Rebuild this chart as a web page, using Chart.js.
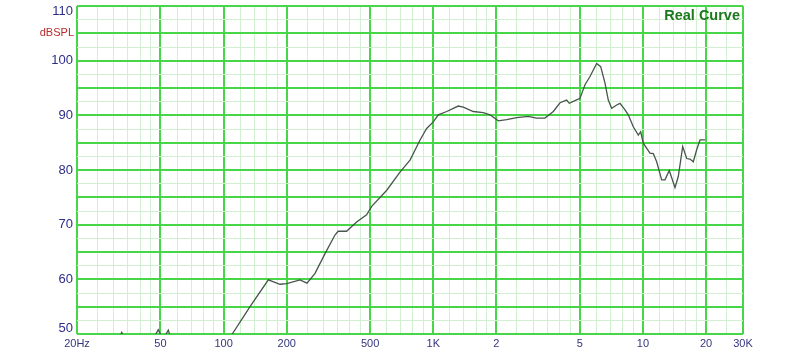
<!DOCTYPE html>
<html>
<head>
<meta charset="utf-8">
<script src="https://cdn.jsdelivr.net/npm/chart.js@4/dist/chart.umd.min.js"></script>
<style>
    html, body { margin: 0; padding: 0; background: #fff; }
    #wrap { width: 800px; height: 359px; }
</style>
</head>
<body>
<div id="wrap"><canvas id="responseChart" width="800" height="359"></canvas></div>
<script>
// measured curve: frequency in Hz, level in dB SPL (values under 50 fall below the plot)
const freqs = [20, 25.7, 31, 32.7, 34, 44.6, 48.8, 51.4, 54.5, 57.4,
    101.6, 107, 110, 133.7, 163.5, 185.8, 200, 231.5, 250, 273,
    304.6, 339.8, 352, 386, 431, 481, 510, 600, 694, 775,
    865, 930, 1000, 1057, 1159, 1316, 1391, 1552, 1732, 1864,
    2042, 2238, 2500, 2840, 3112, 3410, 3736, 4022, 4327, 4453,
    4740, 5008, 5292, 5590, 6016, 6288, 6592, 6834, 7094, 7496,
    7772, 8212, 8512, 8992, 9502, 9754, 10036, 10802, 11200, 11626,
    12284, 12736, 13350, 14216, 14740, 15470, 16166, 16760, 17380, 18040,
    18708, 19760];
const spl = [48, 48, 48.5, 50.3, 48.5, 48, 50.8, 49, 50.7, 48,
    48, 49.5, 50, 55, 59.9, 59.1, 59.2, 59.9, 59.3, 61.1,
    64.7, 68.1, 68.8, 68.8, 70.5, 71.8, 73.4, 76.3, 79.6, 81.8,
    85.5, 87.6, 88.8, 90.1, 90.7, 91.7, 91.5, 90.7, 90.5, 90.1,
    89.0, 89.2, 89.6, 89.8, 89.5, 89.5, 90.7, 92.3, 92.8, 92.2,
    92.7, 93.1, 95.6, 97.1, 99.5, 98.9, 95.9, 92.8, 91.3, 91.9,
    92.2, 91.0, 90.1, 87.9, 86.4, 87.0, 84.9, 83.1, 83.0, 81.5,
    78.2, 78.2, 79.9, 76.8, 78.8, 84.3, 82.1, 82.0, 81.5, 83.7,
    85.5, 85.5];

// x grid: decade lines and the finer lines in between
const majorFreqs = [20, 50, 100, 200, 500, 1000, 2000, 5000, 10000, 20000, 30000];
const minorFreqs = [25, 30, 35, 40, 45, 60, 70, 80, 90, 120, 140, 160, 180,
    250, 300, 350, 400, 450, 600, 700, 800, 900, 1200, 1400, 1600, 1800,
    2500, 3000, 3500, 4000, 4500, 6000, 7000, 8000, 9000,
    12000, 14000, 16000, 18000, 25000];
const freqTickLabels = ['20Hz', '50', '100', '200', '500', '1K', '2', '5', '10', '20', '30K'];

// y grid: every 2.5 dB, labels every 10 dB
const dbTicks = [50, 52.5, 55, 57.5, 60, 62.5, 65, 67.5, 70, 72.5, 75, 77.5, 80,
    82.5, 85, 87.5, 90, 92.5, 95, 97.5, 100, 102.5, 105, 107.5, 110];

const MAJOR = '#47d647';
const MINOR = '#d2efd2';
const FONT = '"Liberation Sans", Arial, sans-serif';

// extra texts: unit caption on the left, curve name in the corner
const captions = {
    id: 'captions',
    afterDraw(chart) {
        const { ctx, chartArea, scales } = chart;
        ctx.save();
        ctx.textBaseline = 'middle';
        ctx.textAlign = 'right';
        ctx.fillStyle = '#b52a2a';
        ctx.font = '11px ' + FONT;
        ctx.fillText('dBSPL', chartArea.left - 3, scales.y.getPixelForValue(105));
        ctx.fillStyle = '#1c781c';
        ctx.font = 'bold 14.5px ' + FONT;
        ctx.fillText('Real Curve', chartArea.right - 3, chartArea.top + 10);
        ctx.restore();
    }
};

const allFreqs = majorFreqs.concat(minorFreqs).sort((a, b) => a - b);

new Chart(document.getElementById('responseChart'), {
    type: 'line',
    data: {
        datasets: [{
            data: freqs.map((f, i) => ({ x: f, y: spl[i] })),
            borderColor: '#46564a',
            borderWidth: 1.3,
            pointRadius: 0,
            tension: 0,
            fill: false
        }]
    },
    options: {
        responsive: false,
        animation: false,
        layout: { padding: { top: 6, right: 57, left: 0, bottom: 0 } },
        plugins: { legend: { display: false }, tooltip: { enabled: false } },
        scales: {
            x: {
                type: 'logarithmic',
                min: 20,
                max: 30000,
                afterBuildTicks: scale => {
                    scale.ticks = allFreqs.map(v => ({ value: v }));
                },
                afterFit: scale => {
                    scale.height = 25;
                    scale.paddingLeft = 0;
                    scale.paddingRight = 0;
                },
                border: { display: false },
                grid: {
                    drawTicks: false,
                    color: c => majorFreqs.includes(c.tick.value) ? MAJOR : MINOR,
                    lineWidth: c => majorFreqs.includes(c.tick.value) ? 2 : 1
                },
                ticks: {
                    autoSkip: false,
                    maxRotation: 0,
                    padding: 3,
                    color: '#35357f',
                    font: { family: FONT, size: 11 },
                    callback: v => {
                        const i = majorFreqs.indexOf(v);
                        return i >= 0 ? freqTickLabels[i] : '';
                    }
                }
            },
            y: {
                min: 50,
                max: 110,
                afterBuildTicks: scale => {
                    scale.ticks = dbTicks.map(v => ({ value: v }));
                },
                afterFit: scale => {
                    scale.width = 77;
                    scale.paddingTop = 0;
                    scale.paddingBottom = 0;
                },
                border: { display: false },
                grid: {
                    drawTicks: false,
                    color: c => c.tick.value % 5 === 0 ? MAJOR : MINOR,
                    lineWidth: c => c.tick.value % 5 === 0 ? 2 : 1
                },
                ticks: {
                    autoSkip: false,
                    padding: 4,
                    color: '#2e2e8a',
                    font: { family: FONT, size: 13, lineHeight: 0.8 },
                    callback: v => {
                        if (v % 10 !== 0) return '';
                        // nudge the edge labels inward like the original plot
                        if (v === 50) return ['50', ''];
                        if (v === 110) return ['', '110'];
                        return String(v);
                    }
                }
            }
        }
    },
    plugins: [captions]
});
</script>
</body>
</html>
